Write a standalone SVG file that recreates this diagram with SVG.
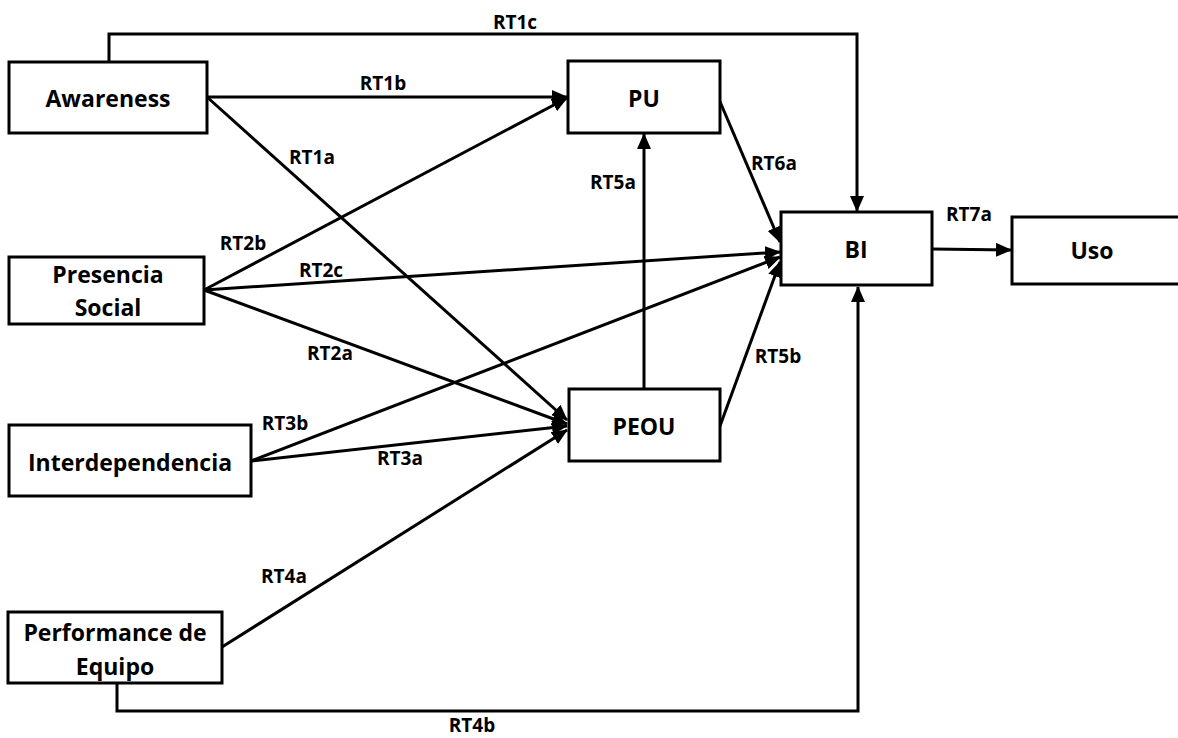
<svg xmlns="http://www.w3.org/2000/svg" width="1178" height="738" viewBox="0 0 1178 738">
<style>
rect.n{fill:#fff;stroke:#000;stroke-width:3}
.t{font-family:"Open Sans","Liberation Sans",sans-serif;font-weight:bold;font-size:23px;fill:#000;text-anchor:middle;dominant-baseline:central}
.l{font-family:"Open Sans","Liberation Sans",sans-serif;font-weight:bold;font-size:19px;fill:#000;text-anchor:middle;dominant-baseline:central}
.c{fill:none;stroke:#000;stroke-width:3}
</style>
<defs>
<marker id="a" viewBox="0 0 16 14" refX="15" refY="7" markerWidth="16" markerHeight="14" markerUnits="userSpaceOnUse" orient="auto"><path d="M0,0 L16,7 L0,14 Z" fill="#000"/></marker>
</defs>
<g id="connectors">
<polyline class="c" points="109,62 109,34 857,34 857,211" marker-end="url(#a)"/>
<line class="c" x1="207" y1="97" x2="567" y2="97" marker-end="url(#a)"/>
<line class="c" x1="207" y1="97" x2="567" y2="420" marker-end="url(#a)"/>
<line class="c" x1="204" y1="290" x2="567" y2="98" marker-end="url(#a)"/>
<line class="c" x1="204" y1="290" x2="780" y2="252" marker-end="url(#a)"/>
<line class="c" x1="204" y1="290" x2="567" y2="424" marker-end="url(#a)"/>
<line class="c" x1="251" y1="461" x2="780" y2="257" marker-end="url(#a)"/>
<line class="c" x1="251" y1="461" x2="567" y2="426" marker-end="url(#a)"/>
<line class="c" x1="222" y1="647" x2="567" y2="430" marker-end="url(#a)"/>
<polyline class="c" points="117,683 117,711 858,711 858,287" marker-end="url(#a)"/>
<line class="c" x1="644" y1="389" x2="644" y2="134" marker-end="url(#a)"/>
<line class="c" x1="720" y1="426" x2="780" y2="262" marker-end="url(#a)"/>
<line class="c" x1="718" y1="97" x2="780" y2="242" marker-end="url(#a)"/>
<line class="c" x1="932" y1="249" x2="1011" y2="250" marker-end="url(#a)"/>
</g>
<g id="labels">
<text class="l" x="515" y="22">RT1c</text>
<text class="l" x="383" y="83">RT1b</text>
<text class="l" x="312" y="157">RT1a</text>
<text class="l" x="243" y="243">RT2b</text>
<text class="l" x="321" y="270">RT2c</text>
<text class="l" x="330" y="353">RT2a</text>
<text class="l" x="285" y="423">RT3b</text>
<text class="l" x="400" y="458">RT3a</text>
<text class="l" x="284" y="576">RT4a</text>
<text class="l" x="472" y="725">RT4b</text>
<text class="l" x="613" y="182">RT5a</text>
<text class="l" x="778" y="356">RT5b</text>
<text class="l" x="774" y="163">RT6a</text>
<text class="l" x="969" y="214">RT7a</text>
</g>
<g id="awareness"><rect class="n" x="9" y="62" width="198" height="71"/><text class="t" x="108" y="98">Awareness</text></g>
<g id="pu"><rect class="n" x="568" y="61" width="152" height="72"/><text class="t" x="644" y="98">PU</text></g>
<g id="bi"><rect class="n" x="781" y="212" width="151" height="73"/><text class="t" x="856" y="249">BI</text></g>
<g id="uso"><rect class="n" x="1012" y="217" width="170" height="67"/><text class="t" x="1092" y="250">Uso</text></g>
<g id="presencia"><rect class="n" x="9" y="257" width="195" height="67"/><text class="t" x="108" y="274">Presencia</text><text class="t" x="108" y="307">Social</text></g>
<g id="inter"><rect class="n" x="9" y="425" width="242" height="71"/><text class="t" x="130" y="462">Interdependencia</text></g>
<g id="peou"><rect class="n" x="569" y="389" width="151" height="72"/><text class="t" x="644" y="426">PEOU</text></g>
<g id="performance"><rect class="n" x="8" y="612" width="214" height="71"/><text class="t" x="115" y="632">Performance de</text><text class="t" x="115" y="666">Equipo</text></g>
</svg>
